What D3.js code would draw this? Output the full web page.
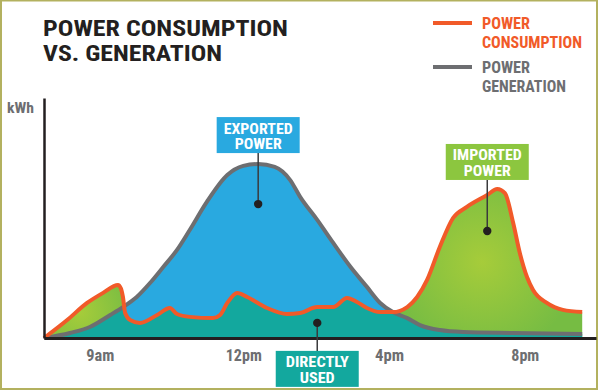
<!DOCTYPE html>
<html><head><meta charset="utf-8">
<script src="https://cdn.jsdelivr.net/npm/d3@7"></script>
<style>
html,body{margin:0;padding:0;background:#fff;}
svg{display:block;}
text{font-family:"Liberation Sans Narrow","Roboto Condensed","DejaVu Sans Condensed","Arial Narrow",sans-serif;font-weight:bold;}
</style></head><body>
<svg id="chart" width="598" height="390"></svg>
<script>
// ---- data (time index 0..100 along the day, energy in relative kWh units 0..100) ----
const genT = [0, 4.7, 8.3, 12.0, 14.3, 16.8, 19.2, 21.6, 24.1, 26.4, 29.5, 33.2, 36.1, 38.8, 41.8, 44.6, 46.4, 49.5, 52.4, 55.4, 58.5, 60.9, 63.2, 65.8, 68.1, 71.7, 75.9, 85.0, 97.5];
const genV = [0, 2.1, 4.6, 9.6, 12.9, 17.1, 22.9, 29.6, 36.7, 45.0, 56.7, 67.9, 71.7, 72.5, 71.3, 65.8, 58.8, 49.2, 39.6, 30.0, 21.3, 14.6, 10.8, 8.3, 5.4, 3.3, 2.5, 2.1, 1.7];

const conT = [0, 4.2, 7.8, 10.7, 13.4, 13.9, 14.3, 14.7, 15.6, 17.4, 20.5, 22.8, 24.1, 26.4, 30.6, 31.9, 33.2, 35.0, 36.8, 40.4, 44.0, 46.4, 49.5, 52.4, 54.9, 56.7, 58.5, 60.9, 63.2, 65.8, 67.6, 69.4, 71.7, 74.1, 76.6, 80.3, 82.1, 83.5, 85.0, 86.2, 87.5, 88.6, 91.1, 94.0, 97.5];
const conV = [0, 7.5, 14.6, 18.8, 22.1, 20.8, 17.1, 10.4, 7.5, 6.3, 9.6, 12.5, 10.0, 8.8, 8.3, 9.6, 14.6, 18.8, 17.1, 12.5, 10.0, 10.4, 12.9, 12.9, 16.7, 15.0, 12.5, 10.8, 10.8, 12.9, 17.1, 24.2, 37.9, 50.0, 54.6, 59.6, 62.1, 60.4, 47.9, 35.4, 25.4, 20.0, 14.6, 11.7, 10.8];

const tickLabels = ["9am", "12pm", "4pm", "8pm"];
const tickPos = [10.1, 36.1, 62.5, 87.1];

const titleLines = ["POWER CONSUMPTION", "VS. GENERATION"];
const legendItems = [
  {lines: ["POWER", "CONSUMPTION"], color: "#f15a29"},
  {lines: ["POWER", "GENERATION"], color: "#6d6e71"}
];
const notes = [
  {lines: ["EXPORTED", "POWER"], t: 38.8, v: 55.8, fill: "#29a9e0", dir: -1},
  {lines: ["IMPORTED", "POWER"], t: 80.3, v: 44.6, fill: "#8cc63f", dir: -1},
  {lines: ["DIRECTLY", "USED"], t: 49.5, v: 6.3, fill: "#13a89e", dir: 1}
];

// ---- layout ----
const svg = d3.select("#chart");
const x = d3.scaleLinear().domain([0, 100]).range([44, 596]);
const y = d3.scaleLinear().domain([0, 100]).range([338, 98]);

const gen = genT.map((t, i) => ({t, v: genV[i]}));
const con = conT.map((t, i) => ({t, v: conV[i]}));

const curve = d3.curveMonotoneX;
const area = d3.area().x(d => x(d.t)).y0(y(0)).y1(d => y(d.v)).curve(curve);
const line = d3.line().x(d => x(d.t)).y(d => y(d.v)).curve(curve);

const defs = svg.append("defs");
function radial(id, cx, cy, r) {
  const g = defs.append("radialGradient").attr("id", id)
    .attr("gradientUnits", "userSpaceOnUse")
    .attr("cx", cx).attr("cy", cy).attr("r", r);
  g.append("stop").attr("offset", "0%").attr("stop-color", "#a6cc3a");
  g.append("stop").attr("offset", "100%").attr("stop-color", "#76bc43");
}
radial("gL", 80, 312, 55);
radial("gR", 482, 262, 95);

defs.append("clipPath").attr("id", "clipL").append("rect")
  .attr("x", 0).attr("y", 0).attr("width", x(30)).attr("height", 390);
defs.append("clipPath").attr("id", "clipR").append("rect")
  .attr("x", x(30)).attr("y", 0).attr("width", 598).attr("height", 390);
defs.append("clipPath").attr("id", "clipGen").append("path").attr("d", area(gen));

// frame
svg.append("rect").attr("x", 1).attr("y", 0.5).attr("width", 596).attr("height", 388.5)
  .attr("fill", "none").attr("stroke", "#b3b15f").attr("stroke-width", 2);

// green (imported) under consumption
svg.append("path").attr("d", area(con)).attr("fill", "url(#gL)").attr("clip-path", "url(#clipL)");
svg.append("path").attr("d", area(con)).attr("fill", "url(#gR)").attr("clip-path", "url(#clipR)");
// blue (exported) under generation
svg.append("path").attr("d", area(gen)).attr("fill", "#29a9e0");
// teal (directly used) = min of both
svg.append("path").attr("d", area(con)).attr("fill", "#13a89e").attr("clip-path", "url(#clipGen)");

// lines
svg.append("path").attr("d", line(gen)).attr("fill", "none")
  .attr("stroke", "#6d6e71").attr("stroke-width", 4).attr("stroke-linejoin", "round");
svg.append("path").attr("d", line(con)).attr("fill", "none")
  .attr("stroke", "#f15a29").attr("stroke-width", 4).attr("stroke-linejoin", "round");

// axes
const xAxis = svg.append("g").attr("transform", `translate(0,${y(0)})`)
  .call(d3.axisBottom(x).tickValues(tickPos).tickFormat((d, i) => tickLabels[i]).tickSize(0).tickPadding(12));
xAxis.select(".domain").attr("stroke", "#231f20").attr("stroke-width", 3);
const tickW = [28, 36, 29, 28];
xAxis.selectAll(".tick text").attr("fill", "#6d6e71").attr("font-size", 16)
  .attr("font-family", null)
  .attr("textLength", (d, i) => tickW[i]).attr("lengthAdjust", "spacingAndGlyphs");

const yAxis = svg.append("g").attr("transform", `translate(${x(0)},0)`)
  .call(d3.axisLeft(y).tickValues([]).tickSize(0));
yAxis.select(".domain").attr("stroke", "#231f20").attr("stroke-width", 2.5);

svg.append("text").attr("x", 7).attr("y", 113).attr("fill", "#6d6e71")
  .attr("font-size", 15).attr("textLength", 27).attr("lengthAdjust", "spacingAndGlyphs").text("kWh");

// title (one text, two tspans)
const titleW = [245, 179];
const title = svg.append("text").attr("x", 43).attr("y", 35.5).attr("fill", "#231f20").attr("font-size", 22.8);
titleLines.forEach((s, i) => {
  title.append("tspan").attr("x", 43).attr("y", 35.5 + i * 25.6)
    .attr("textLength", titleW[i]).attr("lengthAdjust", "spacingAndGlyphs").text(s);
});

// legend
const legW = [[48, 100], [48, 84]];
legendItems.forEach((it, k) => {
  const y0 = 23 + k * 44;
  svg.append("line").attr("x1", 433).attr("x2", 472).attr("y1", y0).attr("y2", y0)
    .attr("stroke", it.color).attr("stroke-width", 4);
  const t = svg.append("text").attr("x", 482).attr("y", y0 + 6).attr("fill", it.color).attr("font-size", 16);
  it.lines.forEach((s, j) => {
    t.append("tspan").attr("x", 482).attr("y", y0 + 6 + j * 19)
      .attr("textLength", legW[k][j]).attr("lengthAdjust", "spacingAndGlyphs").text(s);
  });
});

// annotations
const noteW = [[69, 47], [69, 47], [63, 35]];
const bw = 83, bh = 36;
notes.forEach((n, k) => {
  const cx = x(n.t), cy = y(n.v);
  const top = n.dir < 0 ? cy - 51 - bh : cy + 28;
  const lineEnd = n.dir < 0 ? top + bh : top;
  svg.append("line").attr("x1", cx).attr("x2", cx).attr("y1", cy).attr("y2", lineEnd)
    .attr("stroke", "#3a3a3c").attr("stroke-width", 1.5);
  svg.append("circle").attr("cx", cx).attr("cy", cy).attr("r", 4.2).attr("fill", "#231f20");
  svg.append("rect").attr("x", cx - bw / 2).attr("y", top).attr("width", bw).attr("height", bh)
    .attr("fill", n.fill);
  const t = svg.append("text").attr("x", cx).attr("y", top + 16.5).attr("text-anchor", "middle")
    .attr("fill", "#fff").attr("font-size", 14);
  n.lines.forEach((s, j) => {
    t.append("tspan").attr("x", cx).attr("y", top + 16.5 + j * 15.6)
      .attr("textLength", noteW[k][j]).attr("lengthAdjust", "spacingAndGlyphs").text(s);
  });
});
</script>
</body></html>
